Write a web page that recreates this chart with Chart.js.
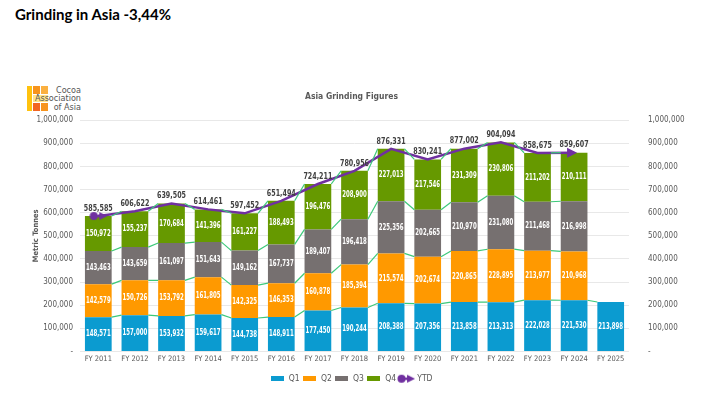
<!DOCTYPE html>
<html lang="en">
<head>
<meta charset="UTF-8">
<title>Grinding in Asia</title>
<script src="https://cdn.jsdelivr.net/npm/chart.js"></script>
<style>
  body { margin: 0; background: #fff; font-family: Lato, "Open Sans", sans-serif; }
  .pagina { position: relative; width: 703px; height: 398px; overflow: hidden; }
  .titulo { position: absolute; left: 15px; top: 5px; font-weight: bold; font-size: 15px; color: #000; }
  .logo { position: absolute; left: 25px; top: 86px; width: 58px; height: 26px; }
  .logo div { position: absolute; }
  .logo span { position: absolute; right: 2px; font-family: "DejaVu Sans Condensed", sans-serif; font-size: 9px; line-height: 9px; color: #555; white-space: nowrap; }
  canvas { position: absolute; left: 0; top: 0; }
</style>
</head>
<body>
<div class="pagina">
  <div class="titulo">Grinding in Asia -3,44%</div>
  <div class="logo">
    <div style="left:2px;top:0;width:5px;height:25px;background:#FFC20E"></div>
    <div style="left:8px;top:0;width:7px;height:8px;background:#F7941D"></div>
    <div style="left:16px;top:0;width:7px;height:8px;background:#FBB040"></div>
    <div style="left:8px;top:9px;width:15px;height:7px;background:#FFE38A"></div>
    <div style="left:8px;top:17px;width:7px;height:8px;background:#F26522"></div>
    <div style="left:16px;top:17px;width:7px;height:8px;background:#F7941D"></div>
    <span style="top:0">Cocoa</span>
    <span style="top:8px">Association</span>
    <span style="top:17px">of Asia</span>
  </div>
  <canvas id="graficoGrinding" width="703" height="398"></canvas>
</div>

<script>
  // dados
  const anos = ['FY 2011', 'FY 2012', 'FY 2013', 'FY 2014', 'FY 2015', 'FY 2016', 'FY 2017',
                'FY 2018', 'FY 2019', 'FY 2020', 'FY 2021', 'FY 2022', 'FY 2023', 'FY 2024', 'FY 2025'];
  const q1 = [148571, 157000, 153932, 159617, 144738, 148911, 177450, 190244, 208388, 207356, 213858, 213313, 222028, 221530, 213898];
  const q2 = [142579, 150726, 153792, 161805, 142325, 146353, 160878, 185394, 215574, 202674, 220865, 228895, 213977, 210968, null];
  const q3 = [143463, 143659, 161097, 151643, 149162, 167737, 189407, 196418, 225356, 202665, 210970, 231080, 211468, 216998, null];
  const q4 = [150972, 155237, 170684, 141396, 161227, 188493, 196476, 208900, 227013, 217546, 231309, 230806, 211202, 210111, null];
  const ytd = [585585, 606622, 639505, 614461, 597452, 651494, 724211, 780956, 876331, 830241, 877002, 904094, 858675, 859607, null];

  const corQ1 = '#0B9BD0';
  const corQ2 = '#FF9900';
  const corQ3 = '#767070';
  const corQ4 = '#669900';
  const corYtd = '#7030A0';
  const fonte = '"DejaVu Sans Condensed", Lato, sans-serif';

  function formatar(v) {
    return v.toLocaleString('en-US');
  }

  // simbolos da legenda
  function caixaLegenda(cor) {
    const c = document.createElement('canvas');
    c.width = 13; c.height = 5;
    const ctx = c.getContext('2d');
    ctx.fillStyle = cor;
    ctx.fillRect(0, 0, 13, 5);
    return c;
  }
  function simboloYtd() {
    const c = document.createElement('canvas');
    c.width = 18; c.height = 10;
    const ctx = c.getContext('2d');
    ctx.fillStyle = corYtd;
    ctx.strokeStyle = corYtd;
    ctx.lineWidth = 2.5;
    ctx.beginPath(); ctx.moveTo(4, 5); ctx.lineTo(13, 5); ctx.stroke();
    ctx.beginPath(); ctx.arc(4.5, 5, 4, 0, Math.PI * 2); ctx.fill();
    ctx.beginPath(); ctx.moveTo(10, 1); ctx.lineTo(18, 5); ctx.lineTo(10, 9); ctx.closePath(); ctx.fill();
    return c;
  }

  // linhas de serie (verdes) ligando o topo de cada segmento
  const linhasSerie = {
    id: 'linhasSerie',
    afterDatasetsDraw(chart) {
      const ctx = chart.ctx;
      ctx.save();
      ctx.strokeStyle = '#3CC97A';
      ctx.lineWidth = 1.2;
      for (let d = 0; d < 4; d++) {
        const meta = chart.getDatasetMeta(d);
        const valores = chart.data.datasets[d].data;
        for (let i = 0; i < meta.data.length - 1; i++) {
          if (valores[i] == null || valores[i + 1] == null) continue;
          const a = meta.data[i], b = meta.data[i + 1];
          ctx.beginPath();
          ctx.moveTo(a.x + a.width / 2, a.y);
          ctx.lineTo(b.x - b.width / 2, b.y);
          ctx.stroke();
        }
      }
      ctx.restore();
    }
  };

  // rotulos: valores brancos nos segmentos, totais acima da linha YTD, seta no final
  const rotulos = {
    id: 'rotulos',
    afterDatasetsDraw(chart) {
      const ctx = chart.ctx;
      ctx.save();
      ctx.textAlign = 'center';
      ctx.textBaseline = 'middle';
      ctx.font = 'bold 8.5px ' + fonte;
      ctx.fillStyle = '#ffffff';
      for (let d = 0; d < 4; d++) {
        const meta = chart.getDatasetMeta(d);
        const valores = chart.data.datasets[d].data;
        meta.data.forEach(function (barra, i) {
          if (valores[i] == null) return;
          ctx.fillText(formatar(valores[i]), barra.x, (barra.y + barra.base) / 2, barra.width - 2);
        });
      }

      const metaLinha = chart.getDatasetMeta(4);
      let ultimo = 0;
      ctx.font = 'bold 9.5px ' + fonte;
      ctx.fillStyle = '#404040';
      ctx.textBaseline = 'bottom';
      metaLinha.data.forEach(function (p, i) {
        if (ytd[i] == null) return;
        ultimo = i;
        ctx.fillText(formatar(ytd[i]), p.x, p.y - 3, 29);
      });

      // seta
      const pa = metaLinha.data[ultimo - 1], pb = metaLinha.data[ultimo];
      const ang = Math.atan2(pb.y - pa.y, pb.x - pa.x);
      ctx.translate(pb.x, pb.y);
      ctx.rotate(ang);
      ctx.fillStyle = corYtd;
      ctx.beginPath();
      ctx.moveTo(3, 0);
      ctx.lineTo(-7, -5);
      ctx.lineTo(-7, 5);
      ctx.closePath();
      ctx.fill();
      ctx.restore();
    }
  };

  const rotuloEixo = function (v) {
    return v === 0 ? '-' : formatar(v);
  };

  const dadosGrafico = {
    labels: anos,
    datasets: [
      { label: 'Q1', data: q1, backgroundColor: corQ1, stack: 'q', order: 1, pointStyle: caixaLegenda(corQ1) },
      { label: 'Q2', data: q2, backgroundColor: corQ2, stack: 'q', order: 1, pointStyle: caixaLegenda(corQ2) },
      { label: 'Q3', data: q3, backgroundColor: corQ3, stack: 'q', order: 1, pointStyle: caixaLegenda(corQ3) },
      { label: 'Q4', data: q4, backgroundColor: corQ4, stack: 'q', order: 1, pointStyle: caixaLegenda(corQ4) },
      {
        label: 'YTD', type: 'line', data: ytd, stack: 'ytd', order: 0,
        borderColor: corYtd, backgroundColor: corYtd, borderWidth: 2.5,
        pointRadius: ytd.map(function (v, i) { return i === 0 ? 5 : 0; }),
        pointBackgroundColor: corYtd, pointBorderWidth: 0,
        pointStyle: simboloYtd(), tension: 0, spanGaps: false
      }
    ]
  };

  const configGrafico = {
    type: 'bar',
    data: dadosGrafico,
    options: {
      responsive: false,
      animation: false,
      layout: { padding: { left: 0, right: 0, top: 0, bottom: 5 } },
      datasets: { bar: { categoryPercentage: 1, barPercentage: 0.73 } },
      elements: { point: { pointStyle: 'circle' } },
      plugins: {
        tooltip: { enabled: false },
        title: {
          display: true,
          text: 'Asia Grinding Figures',
          color: '#595959',
          font: { family: fonte, size: 8.5, weight: 'bold' },
          padding: { top: 92, bottom: 18 }
        },
        legend: {
          position: 'bottom',
          labels: {
            usePointStyle: true,
            pointStyleWidth: 14,
            boxHeight: 5,
            padding: 3,
            color: '#595959',
            font: { family: fonte, size: 8.5 },
            sort: function (a, b) { return a.datasetIndex - b.datasetIndex; }
          }
        }
      },
      scales: {
        x: {
          stacked: true,
          grid: { display: false, drawTicks: false },
          border: { display: false },
          ticks: { color: '#595959', font: { family: fonte, size: 7.5 }, padding: 3, maxRotation: 0 },
          afterFit: function (s) { s.height = 20; }
        },
        y: {
          stacked: true,
          min: 0,
          max: 1000000,
          grid: { color: '#E8E8E8', drawTicks: false },
          border: { display: false },
          ticks: { stepSize: 100000, color: '#595959', font: { family: fonte, size: 8 }, padding: 7, callback: rotuloEixo },
          title: { display: true, text: 'Metric Tonnes', color: '#595959', font: { family: fonte, size: 7.5, weight: 'bold' }, padding: { top: 32, bottom: 0 } },
          afterFit: function (s) { s.width = 80; }
        },
        y2: {
          position: 'right',
          display: true,
          min: 0,
          max: 1000000,
          grid: { display: false },
          border: { display: false },
          ticks: { stepSize: 100000, color: '#595959', font: { family: fonte, size: 8 }, padding: 11, callback: rotuloEixo },
          afterFit: function (s) { s.width = 74; }
        }
      }
    },
    plugins: [linhasSerie, rotulos]
  };

  new Chart(document.getElementById('graficoGrinding'), configGrafico);
</script>
</body>
</html>
